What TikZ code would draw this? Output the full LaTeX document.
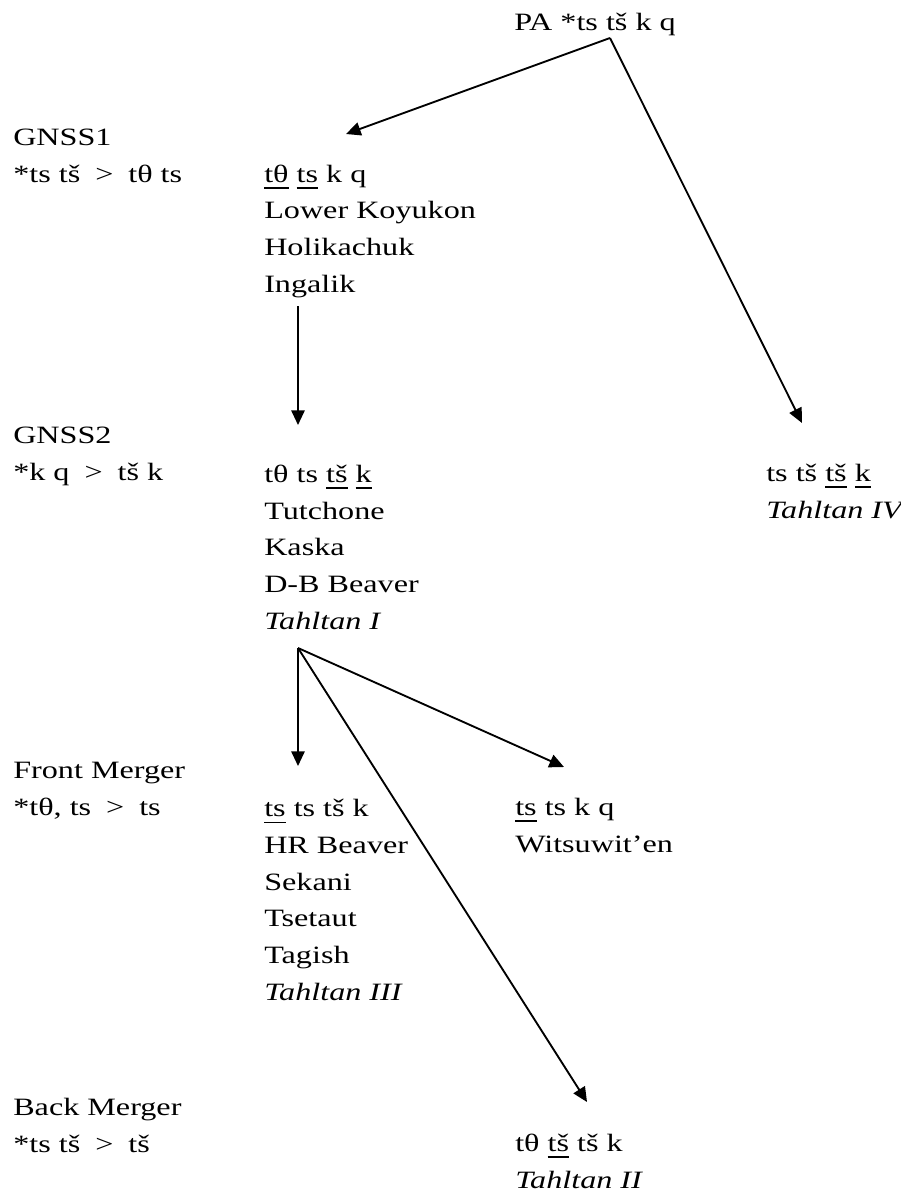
\documentclass[tikz,border=0pt]{standalone}
\usepackage{fontspec}
\setmainfont{Liberation Serif}[FakeStretch=1.29]
\usetikzlibrary{arrows.meta}

\newcommand{\becomes}{\hspace{0.6em}>\hspace{0.6em}}
\newsavebox{\segbox}
\newcommand{\useg}[1]{\sbox{\segbox}{#1}\rlap{\rule[-5pt]{\wd\segbox}{1.3pt}}\usebox{\segbox}}

\tikzset{
  lbl/.style={anchor=base west,inner sep=0pt,align=left,font=\fontsize{18.7}{27.5}\selectfont},
  arr/.style={line width=1.4pt,-{Triangle[length=11pt,width=10pt]}}
}

\begin{document}
\begin{tikzpicture}[x=0.75pt,y=0.75pt,yscale=-1]
	\useasboundingbox (0,0) rectangle (900,1192);
	
	% Text Node (base = last line)
	\draw (514,30) node (pa) [lbl] {PA *ts tš k q};
	% Text Node
	\draw (13,182) node (gnssone) [lbl] {GNSS1\\*ts tš\becomes tθ ts};
	% Text Node
	\draw (264,292) node (grpone) [lbl] {\useg{tθ} \useg{ts} k q\\Lower Koyukon\\Holikachuk\\Ingalik};
	% Text Node
	\draw (13,480) node (gnsstwo) [lbl] {GNSS2\\*k q\becomes tš k};
	% Text Node
	\draw (264,629) node (grptwo) [lbl] {tθ ts \useg{tš} \useg{k}\\Tutchone\\Kaska\\D-B Beaver\\\textit{Tahltan I}};
	% Text Node
	\draw (766,518) node (grpfour) [lbl] {ts tš \useg{tš} \useg{k}\\\textit{Tahltan IV}};
	% Text Node
	\draw (13,815) node (front) [lbl] {Front Merger\\*tθ, ts\becomes ts};
	% Text Node
	\draw (264,1000) node (grpthree) [lbl] {\useg{ts} ts tš k\\HR Beaver\\Sekani\\Tsetaut\\Tagish\\\textit{Tahltan III}};
	% Text Node
	\draw (515,852) node (grpwit) [lbl] {\useg{ts} ts k q\\Witsuwit’en};
	% Text Node
	\draw (13,1152) node (back) [lbl] {Back Merger\\*ts tš\becomes tš};
	% Text Node
	\draw (515,1188) node (grpbk) [lbl] {tθ \useg{tš} tš k\\\textit{Tahltan II}};
	
	% arrow ends
	\coordinate (pafork) at (610,38);
	\coordinate (onetip) at (346,134);
	\coordinate (fourtip) at (802,423);
	\coordinate (onefoot) at (298,306);
	\coordinate (twotip) at (298,425);
	\coordinate (twofork) at (298,648);
	\coordinate (threetip) at (298,766);
	\coordinate (wittip) at (564,767);
	\coordinate (bktip) at (587,1102);
	
	%Straight Lines
	\draw [arr] (pafork) -- (onetip);
	%Straight Lines
	\draw [arr] (pafork) -- (fourtip);
	%Straight Lines
	\draw [arr] (onefoot) -- (twotip);
	%Straight Lines
	\draw [arr] (twofork) -- (threetip);
	%Straight Lines
	\draw [arr] (twofork) -- (wittip);
	%Straight Lines
	\draw [arr] (twofork) -- (bktip);
	
\end{tikzpicture}
\end{document}
